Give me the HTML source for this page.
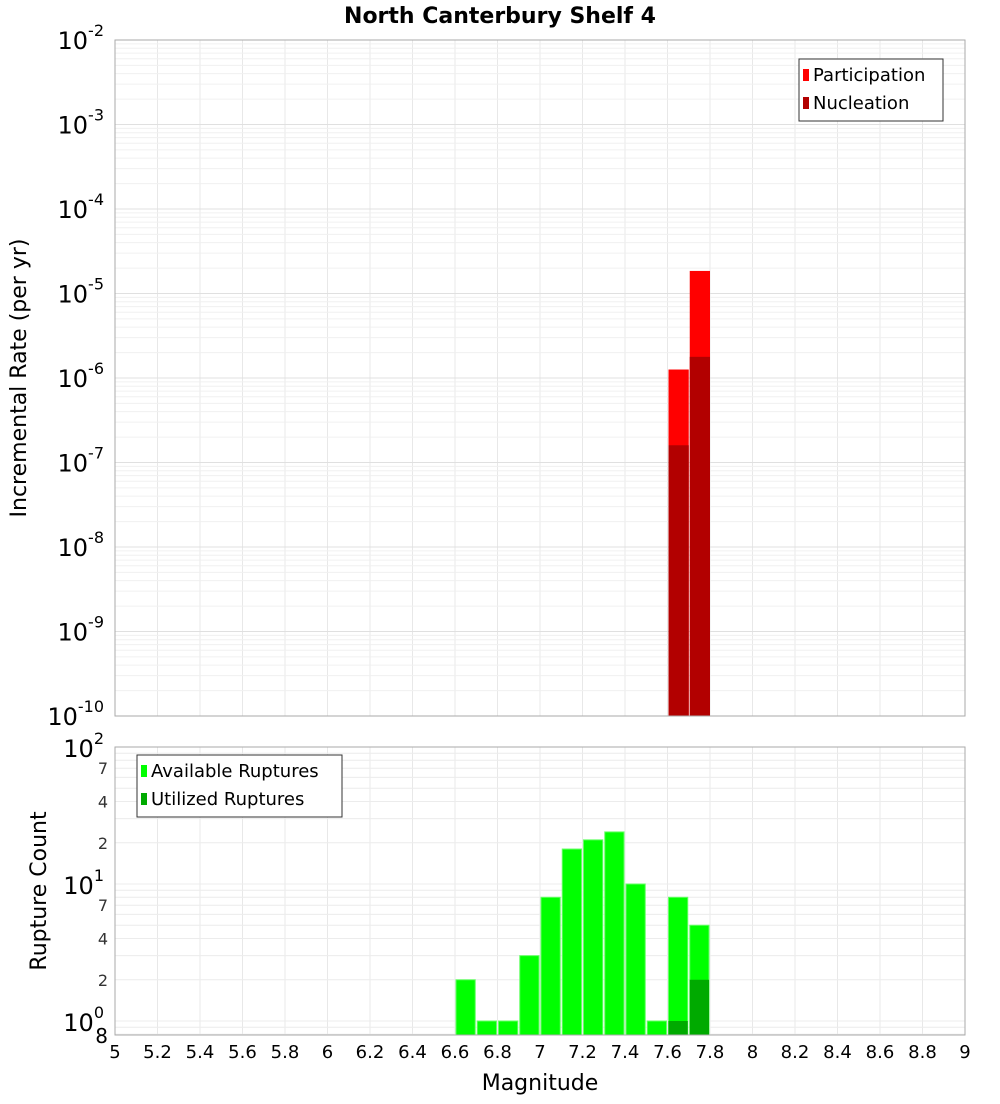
<!DOCTYPE html>
<html><head><meta charset="utf-8"><style>
body{margin:0;background:#fff;font-family:"DejaVu Sans","Liberation Sans",sans-serif}
</style></head><body>
<svg width="1000" height="1100" xmlns="http://www.w3.org/2000/svg" font-family="DejaVu Sans, Liberation Sans, sans-serif">
<text x="500" y="23" text-anchor="middle" font-size="22" font-weight="bold">North Canterbury Shelf 4</text>
<g id="gtop"></g><g id="gbot"></g><g id="gxax"></g>
<text x="540" y="1090" text-anchor="middle" font-size="22">Magnitude</text>
<text transform="translate(26,378) rotate(-90)" text-anchor="middle" font-size="22">Incremental Rate (per yr)</text>
<text transform="translate(46,891) rotate(-90)" text-anchor="middle" font-size="22">Rupture Count</text>
</svg>
<script>
const mags=[6.6,6.7,6.8,6.9,7.0,7.1,7.2,7.3,7.4,7.5,7.6,7.7];
const available=[2,1,1,3,8,18,21,24,10,1,8,5];
const utilized=[0,0,0,0,0,0,0,0,0,0,1,2];
const rateMags=[7.6,7.7];
const participation=[1.26e-6,1.85e-5];
const nucleation=[1.6e-7,1.78e-6];
const xTicks=[5,5.2,5.4,5.6,5.8,6,6.2,6.4,6.6,6.8,7,7.2,7.4,7.6,7.8,8,8.2,8.4,8.6,8.8,9];
const topExps=[-10,-9,-8,-7,-6,-5,-4,-3,-2];
const botMinor=[2,4,7,20,40,70];
const NS="http://www.w3.org/2000/svg";
const X0=115,X1=965;
const xs=m=>X0+(m-5)/4*(X1-X0);
const T0=40,T1=716,yt=v=>T1-(Math.log10(v)+10)/8*(T1-T0);
const B0=747,B1=1035,D=137,yb=v=>B0+(2-Math.log10(v))*D;
function el(p,t,a,txt){const e=document.createElementNS(NS,t);for(const k in a)e.setAttribute(k,a[k]);if(txt!==undefined)e.textContent=txt;p.appendChild(e);return e;}
const gTop=document.getElementById('gtop'),gBot=document.getElementById('gbot'),gX=document.getElementById('gxax');
el(gTop,'rect',{x:X0,y:T0,width:X1-X0,height:T1-T0,fill:'#fff'});
el(gBot,'rect',{x:X0,y:B0,width:X1-X0,height:B1-B0,fill:'#fff'});
xTicks.forEach(m=>{
 let g=el(gTop,'line',{x1:xs(m),x2:xs(m),y1:T0,y2:T1,stroke:'#e8e8e8'});
 
 let h=el(gBot,'line',{x1:xs(m),x2:xs(m),y1:B0,y2:B1,stroke:'#e8e8e8'});
 
});
for(let e=-10;e<-2;e++)for(let k=1;k<10;k++){const y=yt(k*Math.pow(10,e));
 let g=el(gTop,'line',{x1:X0,x2:X1,y1:y,y2:y,stroke:k==1?'#e0e0e0':'#f0f0f0'});
 }
for(const v of [0.8,0.9,1,2,3,4,5,6,7,8,9,10,20,30,40,50,60,70,80,90,100]){const y=yb(v);
 let g=el(gBot,'line',{x1:X0,x2:X1,y1:y,y2:y,stroke:'#ececec'});
 }
const bw=(xs(5.1)-xs(5));
rateMags.forEach((m,i)=>{
 let r=el(gTop,'rect',{x:xs(m)+1,y:yt(participation[i]),width:bw-1,height:T1-yt(participation[i]),fill:'#ff0000'});
 
 let n=el(gTop,'rect',{x:xs(m)+1,y:yt(nucleation[i]),width:bw-1,height:T1-yt(nucleation[i]),fill:'#b20000'});
 
});
el(gTop,'rect',{x:X0,y:T0,width:X1-X0,height:T1-T0,fill:'none',stroke:'#aaa'});
topExps.forEach(e=>{const y=yt(Math.pow(10,e));
 let t=el(gTop,'text',{x:104,y:y+9,'text-anchor':'end','font-size':24});
 
 el(t,'tspan',{},'10');el(t,'tspan',{dy:-13,'font-size':16},String(e));
});
mags.forEach((m,i)=>{
 let r=el(gBot,'rect',{x:xs(m)+1,y:yb(available[i]),width:bw-2,height:B1-yb(available[i]),fill:'#00ff00',stroke:'#66ff66','stroke-width':1});
 
 if(utilized[i]>0){let u=el(gBot,'rect',{x:xs(m)+1,y:yb(utilized[i]),width:bw-2,height:B1-yb(utilized[i]),fill:'#00aa00'});
 }
});
el(gBot,'rect',{x:X0,y:B0,width:X1-X0,height:B1-B0,fill:'none',stroke:'#aaa'});
[[100,'2'],[10,'1'],[1,'0']].forEach(([v,e])=>{const y=yb(v);
 let t=el(gBot,'text',{x:104,y:y+10,'text-anchor':'end','font-size':24});
 
 el(t,'tspan',{},'10');el(t,'tspan',{dy:-13,'font-size':16},e);
});
botMinor.forEach(v=>{let t=el(gBot,'text',{x:108,y:yb(v)+6,'text-anchor':'end','font-size':16,fill:'#333'},String(v<10?v:v/10));
 });
let t8=el(gBot,'text',{x:108,y:B1+8,'text-anchor':'end','font-size':20},'8');

xTicks.forEach(m=>{let t=el(gX,'text',{x:xs(m),y:1058,'text-anchor':'middle','font-size':18},String(m));
 });
function legend(p,x,y,w,items,name){const g=el(p,'g',{});
 el(g,'rect',{x:x,y:y,width:w,height:items.length*28+6,fill:'#fff',stroke:'#333'});
 items.forEach(([c,l],i)=>{const e=el(g,'g',{});
  el(e,'rect',{x:x+4,y:y+10+i*28,width:6,height:12,fill:c});
  el(e,'text',{x:x+14,y:y+22+i*28,'font-size':18},l);});}
legend(gTop,799,59,144,[['#ff0000','Participation'],['#b20000','Nucleation']],'top-legend');
legend(gBot,137,755,205,[['#00ff00','Available Ruptures'],['#00aa00','Utilized Ruptures']],'bottom-legend');
</script>
</body></html>
